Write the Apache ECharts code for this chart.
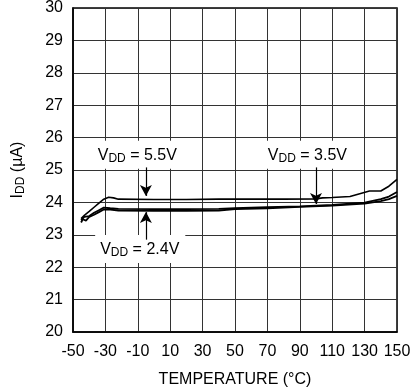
<!DOCTYPE html>
<html>
<head>
<meta charset="utf-8">
<script src="https://cdn.jsdelivr.net/npm/echarts@6/dist/echarts.min.js"></script>
<style>html,body{margin:0;padding:0;background:#fff}#c{width:411px;height:387px}</style>
</head>
<body>
<div id="c"></div>
<script>
// Temperature (°C) and supply current IDD (µA)
const t55 = [-45, -43, -40, -37, -34, -31, -28, -25, -22, 0, 20, 40, 60, 80, 100, 104, 110, 121, 127, 133, 140, 145, 150];
const v55 = [23.5, 23.6, 23.72, 23.85, 23.98, 24.1, 24.16, 24.14, 24.1, 24.09, 24.09, 24.1, 24.1, 24.1, 24.11, 24.14, 24.15, 24.18, 24.27, 24.35, 24.35, 24.5, 24.71];
const t35 = [-45, -43, -40, -37, -34, -31, -27, -22, 0, 20, 40, 50, 70, 90, 110, 130, 140, 145, 150];
const v35 = [23.45, 23.55, 23.58, 23.68, 23.76, 23.84, 23.82, 23.8, 23.79, 23.79, 23.8, 23.82, 23.85, 23.88, 23.92, 23.99, 24.1, 24.18, 24.32];
const t24 = [-45, -44, -42, -40, -37, -34, -31, -27, -22, 0, 20, 40, 50, 70, 90, 110, 130, 140, 145, 150];
const v24 = [23.38, 23.48, 23.44, 23.55, 23.62, 23.7, 23.78, 23.78, 23.75, 23.74, 23.74, 23.75, 23.79, 23.82, 23.86, 23.9, 23.96, 24.04, 24.1, 24.2];
const xTicks = [-50, -30, -10, 10, 30, 50, 70, 90, 110, 130, 150];
const yTicks = [20, 21, 22, 23, 24, 25, 26, 27, 28, 29, 30];
// annotations: [label voltage, label x, label y, arrow x, arrow from y, arrow to y]
const notes = [
  ['5.5V', -10, 25.47, -5, 25.08, 24.2],
  ['3.5V', 95, 25.47, 100, 25.08, 23.95],
  ['2.4V', -8.5, 22.56, -5, 22.85, 23.7]
];

const FONT = 'Liberation Sans, Arial, sans-serif';
const pair = (xs, ys) => xs.map((x, i) => [x, ys[i]]);
const rich = {
  v: {fontSize: 16, fontFamily: FONT, color: '#000', lineHeight: 19},
  s: {fontSize: 12, fontFamily: FONT, color: '#000', lineHeight: 19, padding: [7, 0, 0, 0]}
};

const chart = echarts.init(document.getElementById('c'), null, {renderer: 'canvas'});
const lineSeries = (name, data, w) => ({
  name, type: 'line', data, showSymbol: false, symbol: 'none',
  lineStyle: {color: '#000', width: w}, z: 3, animation: false
});

chart.setOption({
  animation: false,
  backgroundColor: '#fff',
  textStyle: {fontFamily: FONT},
  grid: {left: 73, right: 14, top: 8, bottom: 55, show: true, borderColor: '#000', borderWidth: 1.5,
    containLabel: false, outerBoundsMode: 'none'},
  xAxis: {
    type: 'value', min: xTicks[0], max: xTicks[xTicks.length - 1], interval: 20,
    name: 'TEMPERATURE (°C)', nameLocation: 'middle', nameGap: 40,
    nameTextStyle: {fontSize: 16, color: '#000', fontFamily: FONT},
    axisLine: {show: true, onZero: false, lineStyle: {color: '#000', width: 1.5}},
    axisTick: {show: false},
    axisLabel: {fontSize: 16, color: '#000', margin: 12, fontFamily: FONT,
      formatter: v => xTicks.includes(v) ? String(v) : ''},
    splitLine: {show: true, lineStyle: {color: '#333', width: 1}}
  },
  yAxis: {
    type: 'value', min: yTicks[0], max: yTicks[yTicks.length - 1], interval: 1,
    name: '{v|I}{s|DD}{v| (µA)}', nameLocation: 'middle', nameGap: 46,
    nameTextStyle: {rich},
    axisLine: {show: true, onZero: false, lineStyle: {color: '#000', width: 1.5}},
    axisTick: {show: false},
    axisLabel: {fontSize: 16, color: '#000', margin: 10, fontFamily: FONT},
    splitLine: {show: true, lineStyle: {color: '#333', width: 1}}
  },
  series: [
    lineSeries('5.5V', pair(t55, v55), 1.6),
    lineSeries('3.5V', pair(t35, v35), 1.8),
    Object.assign(lineSeries('2.4V', pair(t24, v24), 1.8), {
      markPoint: {
        symbol: 'rect', symbolSize: 1, itemStyle: {color: 'rgba(0,0,0,0)'},
        z: 5,
        data: notes.map(n => ({
          coord: [n[1], n[2]],
          label: {show: true, position: 'inside', formatter: '{v|V}{s|DD}{v| = ' + n[0] + '}',
            backgroundColor: '#fff', padding: [5, 6, 4, 5], rich}
        }))
      },
      markLine: {
        silent: true, symbol: ['none', 'arrow'], symbolSize: [9, 11],
        lineStyle: {color: '#000', width: 1.2, type: 'solid'},
        label: {show: false}, z: 6,
        data: notes.map(n => [{coord: [n[3], n[4]]}, {coord: [n[3], n[5]]}])
      }
    })
  ]
});
</script>
</body>
</html>
